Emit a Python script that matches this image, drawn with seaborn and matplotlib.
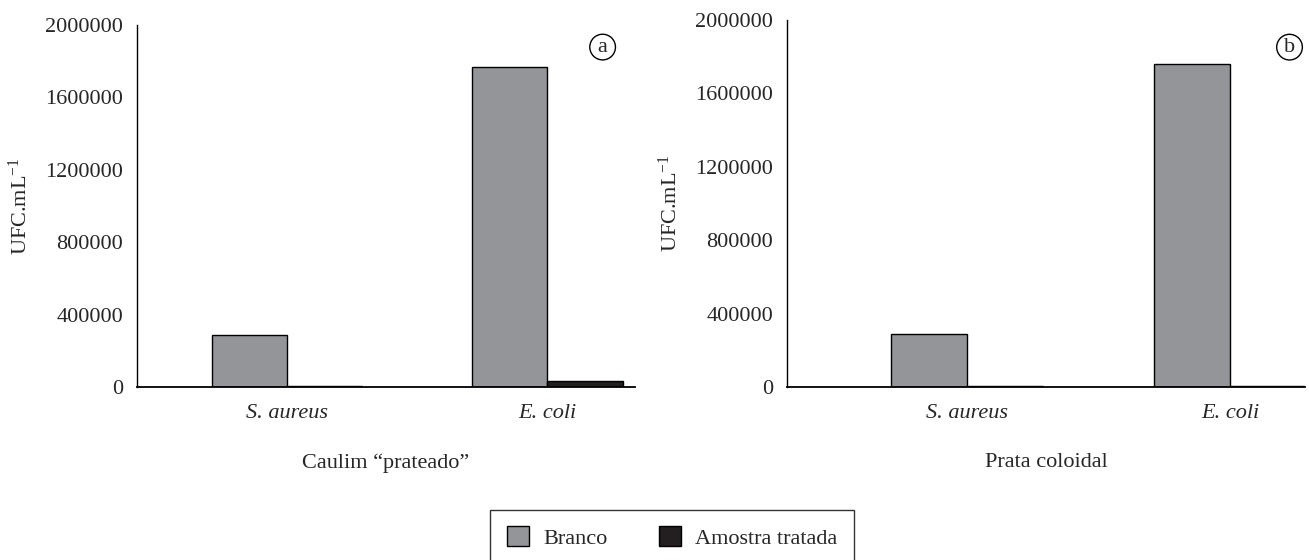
import matplotlib
matplotlib.use("Agg")
import matplotlib.pyplot as plt
from matplotlib.patches import Patch
import pandas as pd
import seaborn as sns

# === data ===
CATEGORIES = ["S. aureus", "E. coli"]
SERIES = ["Branco", "Amostra tratada"]
BRANCO_A = [290000, 1770000]
TRATADA_A = [8000, 35000]
BRANCO_B = [290000, 1760000]
TRATADA_B = [7000, 8000]
PANEL_TITLES = ["Caulim \u201cprateado\u201d", "Prata coloidal"]
PANEL_TAGS = ["a", "b"]
Y_TICKS = [0, 400000, 800000, 1200000, 1600000, 2000000]

COLORS = {"Branco": "#939598", "Amostra tratada": "#231f20"}


def make_df(branco, tratada):
    return pd.DataFrame({
        "bact": CATEGORIES * 2,
        "serie": [SERIES[0]] * 2 + [SERIES[1]] * 2,
        "ufc": list(branco) + list(tratada),
    })


sns.set_theme(style="white")
plt.rcParams["font.family"] = ["Liberation Serif", "DejaVu Serif"]
plt.rcParams["mathtext.fontset"] = "custom"
plt.rcParams["mathtext.rm"] = "Liberation Serif"
plt.rcParams["mathtext.it"] = "Liberation Serif:italic"

fig = plt.figure(figsize=(13.09, 5.6), dpi=100)
ax_a = fig.add_axes([0.1047, 0.3089, 0.3804, 0.6465])
ax_b = fig.add_axes([0.6012, 0.3089, 0.3958, 0.6554])

# (axes, data, xlim, tag position in axes coords)
panels = [
    (ax_a, make_df(BRANCO_A, TRATADA_A), (-0.577, 1.338), (0.935, 0.939)),
    (ax_b, make_df(BRANCO_B, TRATADA_B), (-0.684, 1.285), (0.970, 0.926)),
]

for i, (ax, df, xlim, tag_xy) in enumerate(panels):
    sns.barplot(data=df, x="bact", y="ufc", hue="serie", order=CATEGORIES,
                hue_order=SERIES, palette=COLORS, width=0.58, ax=ax,
                edgecolor="black", linewidth=1.0, saturation=1, legend=False)
    ax.set_ylim(0, 2000000)
    ax.set_xlim(*xlim)
    ax.set_yticks(Y_TICKS)
    ax.set_yticklabels([str(v) for v in Y_TICKS], fontsize=16)
    for lbl in ax.get_xticklabels():
        lbl.set_fontstyle("italic")
        lbl.set_fontsize(16)
    ax.tick_params(axis="y", direction="out", length=6, width=1, color="black", pad=4)
    ax.tick_params(axis="x", length=0, pad=12)
    for s in ["top", "right"]:
        ax.spines[s].set_visible(False)
    ax.spines["left"].set_color("black")
    ax.spines["bottom"].set_color("black")
    ax.spines["left"].set_linewidth(1.0)
    ax.spines["bottom"].set_linewidth(1.3)
    ax.set_ylabel(r"UFC.mL$^{-1}$", fontsize=16, labelpad=10)
    ax.set_xlabel(PANEL_TITLES[i], fontsize=16, labelpad=22)
    ax.text(tag_xy[0], tag_xy[1], PANEL_TAGS[i], transform=ax.transAxes,
            fontsize=16, ha="center", va="center",
            bbox=dict(boxstyle="circle,pad=0.15", fc="white", ec="black", lw=1))

handles = [Patch(facecolor=COLORS[s], edgecolor="black", label=s) for s in SERIES]
leg = fig.legend(handles=handles, loc="lower center", bbox_to_anchor=(0.5134, -0.03),
                 ncol=2, fontsize=16, frameon=True, fancybox=False,
                 handlelength=1.0, handleheight=1.0, columnspacing=2.3,
                 handletextpad=0.65, borderpad=0.75)
leg.get_frame().set_edgecolor("black")
leg.get_frame().set_linewidth(1.0)

fig.savefig("out.png", dpi=100)
